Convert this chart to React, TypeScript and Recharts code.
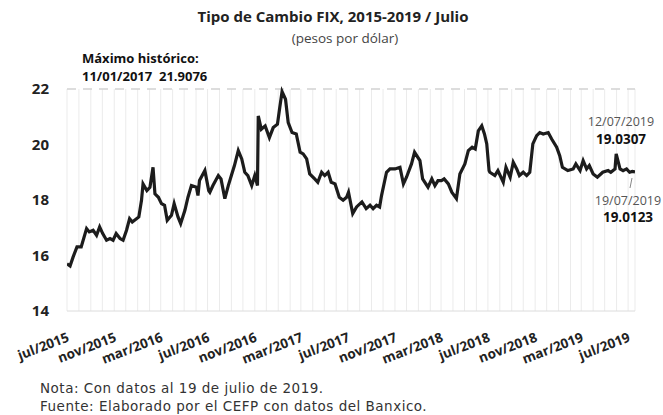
import { LineChart, Line, XAxis, YAxis, CartesianGrid, ReferenceLine } from "recharts";

// Tipo de cambio FIX (pesos por dólar), lecturas aproximadas del gráfico
const fechas = [
  "2015-07-01", "2015-07-09", "2015-07-17", "2015-07-27", "2015-08-07", "2015-08-21", "2015-08-28",
  "2015-09-07", "2015-09-16", "2015-09-24", "2015-10-02", "2015-10-12", "2015-10-21", "2015-10-29",
  "2015-11-06", "2015-11-16", "2015-11-24", "2015-12-03", "2015-12-11", "2015-12-18",
  "2016-01-04", "2016-01-11", "2016-01-15", "2016-01-25", "2016-02-02", "2016-02-10", "2016-02-15",
  "2016-02-24", "2016-03-03", "2016-03-11", "2016-03-18", "2016-03-29", "2016-04-05", "2016-04-15",
  "2016-04-22", "2016-05-03", "2016-05-11", "2016-05-20", "2016-06-02", "2016-06-06", "2016-06-10",
  "2016-06-17", "2016-06-24", "2016-07-04", "2016-07-07", "2016-07-15", "2016-07-29", "2016-08-05",
  "2016-08-15", "2016-08-24", "2016-09-01", "2016-09-09", "2016-09-19", "2016-09-28", "2016-10-06",
  "2016-10-14", "2016-10-24", "2016-11-01", "2016-11-08", "2016-11-10", "2016-11-18", "2016-11-28",
  "2016-12-09", "2016-12-19", "2016-12-30",
  "2017-01-05", "2017-01-11", "2017-01-20", "2017-01-27", "2017-02-06", "2017-02-17", "2017-02-27",
  "2017-03-07", "2017-03-16", "2017-03-24", "2017-04-06", "2017-04-14", "2017-04-24", "2017-05-02",
  "2017-05-11", "2017-05-19", "2017-05-29", "2017-06-09", "2017-06-19", "2017-06-28", "2017-07-03",
  "2017-07-14", "2017-07-24", "2017-08-07", "2017-08-18", "2017-08-28", "2017-09-05", "2017-09-14",
  "2017-09-22", "2017-09-27", "2017-10-10", "2017-10-19", "2017-11-01", "2017-11-14", "2017-11-23",
  "2017-12-01", "2017-12-14", "2017-12-22",
  "2018-01-05", "2018-01-12", "2018-01-26", "2018-02-05", "2018-02-13", "2018-02-21", "2018-03-02",
  "2018-03-09", "2018-03-20", "2018-03-29", "2018-04-10", "2018-04-19", "2018-05-02", "2018-05-11",
  "2018-05-21", "2018-05-29", "2018-06-06", "2018-06-15", "2018-06-22", "2018-06-28", "2018-07-04",
  "2018-07-06", "2018-07-19", "2018-07-27", "2018-08-10", "2018-08-17", "2018-08-28", "2018-09-05",
  "2018-09-14", "2018-09-21", "2018-10-01", "2018-10-10", "2018-10-18", "2018-10-26", "2018-11-05",
  "2018-11-13", "2018-11-22", "2018-12-05", "2018-12-14", "2018-12-27",
  "2019-01-04", "2019-01-11", "2019-01-25", "2019-02-08", "2019-02-15", "2019-02-26", "2019-03-06",
  "2019-03-15", "2019-03-22", "2019-04-01", "2019-04-12", "2019-04-26", "2019-05-10", "2019-05-17",
  "2019-05-28", "2019-05-31", "2019-06-10", "2019-06-18", "2019-06-27", "2019-07-05", "2019-07-12",
  "2019-07-19",
];

const tipoCambio = [
  15.70, 15.62, 15.95, 16.31, 16.31, 16.97, 16.85,
  16.91, 16.73, 17.03, 16.79, 16.55, 16.61, 16.55,
  16.79, 16.61, 16.55, 16.91, 17.33, 17.21,
  17.39, 17.99, 18.58, 18.34, 18.46, 19.18, 18.22,
  18.10, 17.87, 17.81, 17.27, 17.45, 17.87, 17.39,
  17.15, 17.63, 18.10, 18.52, 18.46, 18.16, 18.70,
  18.88, 19.06, 18.34, 18.28, 18.52, 18.88, 18.76,
  18.05, 18.52, 18.88, 19.24, 19.78, 19.48, 19.00,
  18.88, 18.52, 18.88, 18.52, 21.03, 20.55, 20.67,
  20.25, 20.61, 20.73,
  21.33, 21.9076, 21.63, 20.79, 20.43, 20.38, 19.72,
  19.66, 19.48, 18.94, 18.76, 18.64, 19.00, 18.88,
  19.00, 18.64, 18.58, 18.10, 17.99, 18.10, 18.28,
  17.51, 17.75, 17.93, 17.69, 17.81, 17.69, 17.81,
  17.75, 18.16, 19.00, 19.12, 19.12, 19.18, 18.58,
  18.82, 19.30, 19.72,
  19.42, 18.76, 18.46, 18.76, 18.52, 18.70, 18.70,
  18.76, 18.58, 18.28, 18.05, 18.94, 19.30, 19.78,
  19.90, 19.84, 20.49, 20.67, 20.38, 20.02, 19.06,
  19.00, 18.88, 19.06, 18.64, 19.18, 18.82, 19.36,
  19.12, 18.88, 19.00, 18.88, 19.00, 20.02, 20.32,
  20.43, 20.38, 20.43, 20.20, 19.90,
  19.60, 19.18, 19.06, 19.12, 19.30, 19.06, 19.42,
  19.12, 19.24, 18.94, 18.82, 19.00, 19.06, 19.00,
  19.12, 19.66, 19.12, 19.06, 19.12, 19.00, 19.0307,
  19.0123,
];

const etiquetasX = [
  "jul/2015", "nov/2015", "mar/2016", "jul/2016", "nov/2016", "mar/2017", "jul/2017",
  "nov/2017", "mar/2018", "jul/2018", "nov/2018", "mar/2019", "jul/2019",
];
const fechasEtiquetas = [
  "2015-07-01", "2015-11-01", "2016-03-01", "2016-07-01", "2016-11-01", "2017-03-01", "2017-07-01",
  "2017-11-01", "2018-03-01", "2018-07-01", "2018-11-01", "2019-03-01", "2019-07-01",
];
const ticksY = [14, 16, 18, 20, 22];

const FONT = "'Open Sans', sans-serif";
const FONT_NOTA = "'DejaVu Sans', sans-serif";

const data = fechas.map((f, i) => ({ t: Date.parse(f), fix: tipoCambio[i] }));

// una línea de rejilla por mes
const mesesTicks: number[] = [];
for (let y = 2015, m = 6; y < 2019 || (y === 2019 && m <= 6); m++) {
  if (m > 11) { m = 0; y++; }
  if (y === 2019 && m > 6) break;
  mesesTicks.push(Date.UTC(y, m, 1));
}

const etiquetaPorTick = new Map(fechasEtiquetas.map((f, i) => [Date.parse(f), etiquetasX[i]]));

function TickX(props: any) {
  const { x, y, payload } = props;
  const label = etiquetaPorTick.get(payload.value);
  if (!label) return null;
  return (
    <g transform={`translate(${x + 3},${y + 22})`}>
      <text textAnchor="end" transform="rotate(-21)" fontSize={13.5} fontWeight={700} fill="#222" fontFamily={FONT}>
        {label}
      </text>
    </g>
  );
}

export default function App() {
  return (
    <div style={{ position: "absolute", left: 0, top: 0, width: 663, height: 415, background: "#fff", fontFamily: FONT }}>
      <LineChart width={663} height={415} data={data} margin={{ top: 89, right: 28, bottom: 64, left: 0 }}>
        <CartesianGrid horizontal={false} stroke="#ebebeb" />
        <XAxis
          dataKey="t"
          type="number"
          domain={[Date.parse("2015-07-01"), Date.parse("2019-07-19")]}
          ticks={mesesTicks}
          interval={0}
          tick={<TickX />}
          tickLine={false}
          axisLine={{ stroke: "#dcdcdc" }}
          height={40}
          allowDataOverflow
        />
        <YAxis
          domain={[14, 22]}
          ticks={ticksY}
          width={67}
          axisLine={false}
          tickLine={false}
          tickMargin={12}
          tick={{ fontSize: 15, fontWeight: 700, fill: "#222", fontFamily: FONT }}
        />
        <ReferenceLine y={22} stroke="#d2d2d2" strokeDasharray="9 7" strokeWidth={1.5} />
        <Line
          type="linear"
          dataKey="fix"
          stroke="#1c1c1c"
          strokeWidth={3.2}
          dot={false}
          isAnimationActive={false}
        />
      </LineChart>
      <svg width={663} height={415} style={{ position: "absolute", left: 0, top: 0, pointerEvents: "none" }} fontFamily={FONT}>
        <text x={333} y={22} textAnchor="middle" fontSize={15} fontWeight={700} fill="#222">
          Tipo de Cambio FIX, 2015-2019 / Julio
        </text>
        <text x={345} y={43} textAnchor="middle" fontSize={13.5} fill="#444">
          (pesos por dólar)
        </text>
        <text x={82} y={63} fontSize={13} fontWeight={700} fill="#111">
          Máximo histórico:
        </text>
        <text x={82} y={81} fontSize={13} fontWeight={700} fill="#111" style={{ whiteSpace: "pre" }}>
          {"11/01/2017  21.9076"}
        </text>
        <text x={621} y={126} textAnchor="middle" fontSize={12.5} fill="#555">12/07/2019</text>
        <text x={621} y={144} textAnchor="middle" fontSize={13.5} fontWeight={700} fill="#111">19.0307</text>
        <line x1={632} y1={178} x2={630} y2={188} stroke="#888" strokeWidth={1} />
        <text x={628} y={205} textAnchor="middle" fontSize={12.5} fill="#555">19/07/2019</text>
        <text x={628} y={222} textAnchor="middle" fontSize={13.5} fontWeight={700} fill="#111">19.0123</text>
        <text x={40} y={393} fontSize={13.5} letterSpacing={0.5} fill="#333" fontFamily={FONT_NOTA}>
          Nota: Con datos al 19 de julio de 2019.
        </text>
        <text x={40} y={411} fontSize={13.5} letterSpacing={0.5} fill="#333" fontFamily={FONT_NOTA}>
          Fuente: Elaborado por el CEFP con datos del Banxico.
        </text>
      </svg>
    </div>
  );
}
